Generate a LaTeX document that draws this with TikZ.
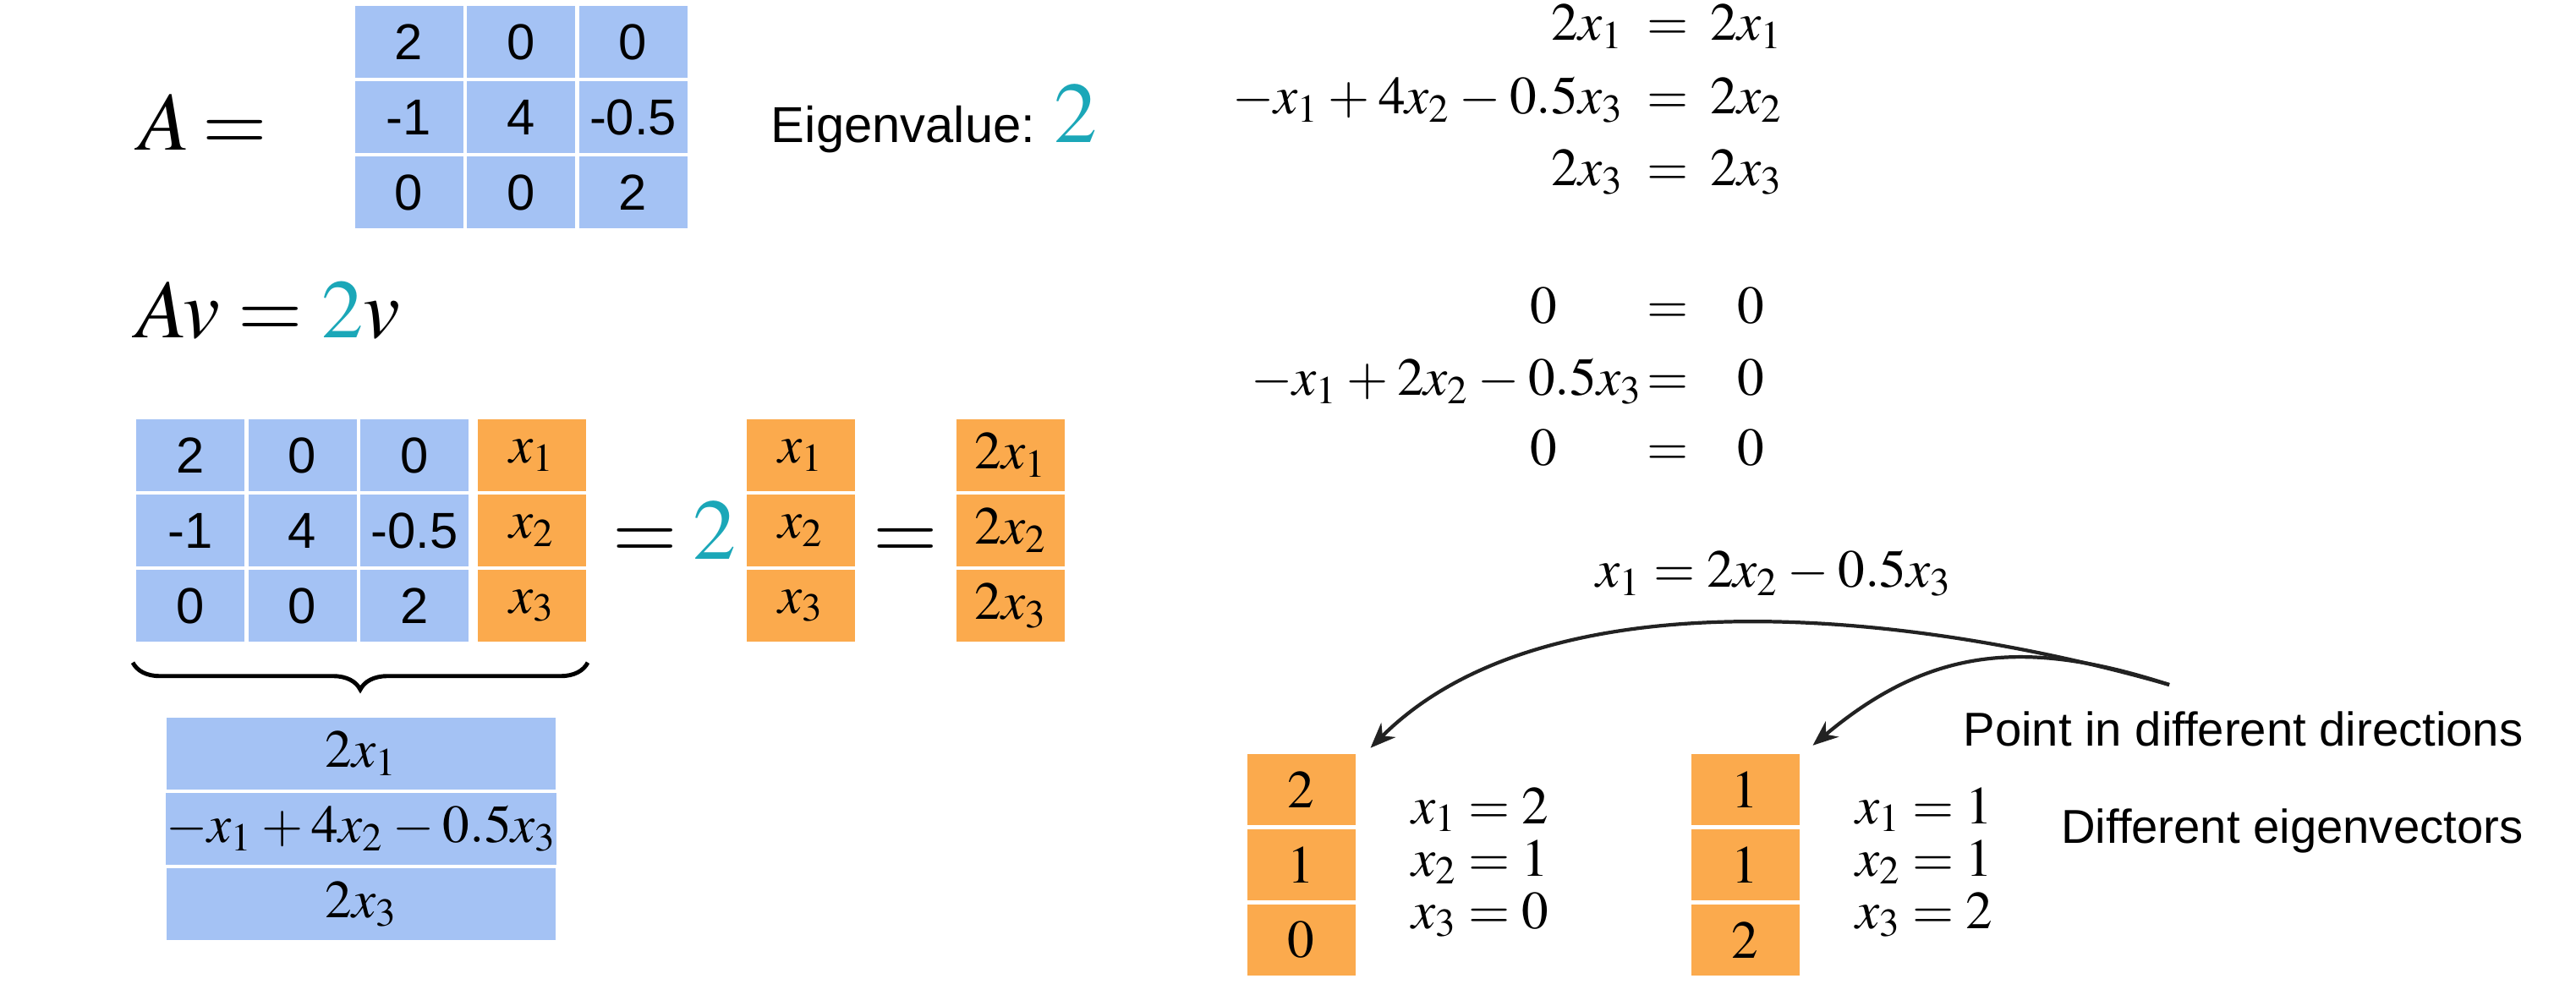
\documentclass[tikz,border=0pt]{standalone}
\usepackage{mathptmx}
\usepackage[no-math]{fontspec}
\newfontfamily\helv{Liberation Sans}
\usetikzlibrary{matrix, calc, arrows.meta, decorations.pathreplacing, positioning}
\definecolor{cellblue}{RGB}{164,194,244}
\definecolor{cellorange}{RGB}{251,170,77}
\definecolor{evteal}{RGB}{27,167,184}
\definecolor{arrowgray}{RGB}{34,34,34}
\newcommand{\mathsz}{\fontsize{18}{22}\selectfont\medmuskip=3mu}
\newcommand{\bigsz}{\fontsize{28}{33}\selectfont}
\newcommand{\sanssz}{\helv\fontsize{17}{20}\selectfont}

\begin{document}
\begin{tikzpicture}[
    cell/.style={fill=cellblue, minimum width=1.28cm, minimum height=0.845cm, inner sep=0pt, outer sep=0pt, anchor=center, font=\sanssz},
    vcell/.style={cell, fill=cellorange, font=\mathsz},
    eqn/.style={inner sep=0pt, font=\mathsz},
    big/.style={inner sep=0pt, font=\bigsz},
    lbl/.style={inner sep=0pt, font=\sanssz},
    note/.style={inner sep=0pt, font=\helv\fontsize{16}{19}\selectfont},
    arr/.style={draw=arrowgray, line width=1.2pt, -{Stealth[length=3mm, width=2.4mm]}},
    brc/.style={decorate, decoration={brace, amplitude=0.32cm}, line width=1.4pt}
]
    \useasboundingbox (0,0) rectangle (30.46,-11.64);

    \matrix (mat) at (6.16,-1.385) [matrix of nodes, nodes={cell}, column sep=0.045cm, row sep=0.045cm, inner sep=0pt] {
        2 & 0 & 0 \\
        -1 & 4 & -0.5 \\
        0 & 0 & 2 \\
    };
    \node[big, anchor=base west] (aname) at (1.64,-1.78) {$A$};
    \node[big, anchor=base east] (aeq) at ($(mat.west)+(-1.02,-0.40)$) {$=$};
    \node[lbl, anchor=base west] (evl) at ($(mat.east)+(0.98,-0.30)$) {Eigenvalue: \textcolor{evteal}{\fontsize{29}{34}\selectfont$2$}};

    \node[big, anchor=base west] (avl) at (1.61,-4.00) {$Av = \textcolor{evteal}{2}v$};

    \matrix (lhs) at (4.27,-6.275) [matrix of nodes, nodes={cell}, column sep=0.045cm, row sep=0.045cm, inner sep=0pt] {
        2 & 0 & 0 &[0.065cm] |[vcell]| $x_1$ \\
        -1 & 4 & -0.5 &[0.065cm] |[vcell]| $x_2$ \\
        0 & 0 & 2 &[0.065cm] |[vcell]| $x_3$ \\
    };
    \matrix (vec) at (9.47,-6.275) [matrix of nodes, nodes={vcell}, row sep=0.045cm, inner sep=0pt] {
        $x_1$ \\
        $x_2$ \\
        $x_3$ \\
    };
    \matrix (res) at (11.95,-6.275) [matrix of nodes, nodes={vcell}, row sep=0.045cm, inner sep=0pt] {
        $2x_1$ \\
        $2x_2$ \\
        $2x_3$ \\
    };
    \node[big, anchor=base] (eqa) at ($(lhs-2-4.east)!0.5!(vec-2-1.west)+(-0.25,-0.34)$) {$=$};
    \node[big, anchor=base, font=\fontsize{29}{34}\selectfont] (lam) at ($(vec-2-1.west)+(-0.38,-0.34)$) {$\textcolor{evteal}{2}$};
    \node[big, anchor=base] (eqb) at ($(vec-2-1.east)!0.5!(res-2-1.west)+(0,-0.34)$) {$=$};

    \draw[brc] ($(lhs-3-4.south east)+(0.02,-0.25)$) -- ($(lhs-3-1.south west)+(-0.04,-0.25)$);

    \matrix (sum) at (4.27,-9.805) [matrix of nodes, nodes={cell, minimum width=4.6cm, font=\mathsz}, row sep=0.045cm, inner sep=0pt] {
        $2x_1$ \\
        $-x_1+4x_2-0.5x_3$ \\
        $2x_3$ \\
    };

    \node[eqn, anchor=base east] (sa1) at (19.20,-0.48) {$2x_1$};
    \node[eqn, anchor=base] (se1) at (19.72,-0.48) {$=$};
    \node[eqn, anchor=base west] (sb1) at (20.22,-0.48) {$2x_1$};
    \node[eqn, anchor=base east] (sa2) at (19.20,-1.35) {$-x_1+4x_2-0.5x_3$};
    \node[eqn, anchor=base] (se2) at (19.72,-1.35) {$=$};
    \node[eqn, anchor=base west] (sb2) at (20.22,-1.35) {$2x_2$};
    \node[eqn, anchor=base east] (sa3) at (19.20,-2.20) {$2x_3$};
    \node[eqn, anchor=base] (se3) at (19.72,-2.20) {$=$};
    \node[eqn, anchor=base west] (sb3) at (20.22,-2.20) {$2x_3$};

    \node[eqn, anchor=base] (ta1) at (18.25,-3.83) {$0$};
    \node[eqn, anchor=base] (te1) at (19.72,-3.83) {$=$};
    \node[eqn, anchor=base] (tb1) at (20.70,-3.83) {$0$};
    \node[eqn, anchor=base east] (ta2) at (19.42,-4.68) {$-x_1+2x_2-0.5x_3$};
    \node[eqn, anchor=base] (te2) at (19.72,-4.68) {$=$};
    \node[eqn, anchor=base] (tb2) at (20.70,-4.68) {$0$};
    \node[eqn, anchor=base] (ta3) at (18.25,-5.51) {$0$};
    \node[eqn, anchor=base] (te3) at (19.72,-5.51) {$=$};
    \node[eqn, anchor=base] (tb3) at (20.70,-5.51) {$0$};

    \node[eqn, anchor=base west] (sol) at (18.87,-6.95) {$x_1 = 2x_2 - 0.5x_3$};

    \matrix (ev1) at (15.385,-10.23) [matrix of nodes, nodes={vcell}, row sep=0.045cm, inner sep=0pt] {
        $2$ \\
        $1$ \\
        $0$ \\
    };
    \matrix (ev2) at (20.635,-10.23) [matrix of nodes, nodes={vcell}, row sep=0.045cm, inner sep=0pt] {
        $1$ \\
        $1$ \\
        $2$ \\
    };
    \node[eqn, anchor=base west] (pa1) at ($(ev1-1-1.east)+(0.66,-0.40)$) {$x_1 = 2$};
    \node[eqn, anchor=base west] (pa2) at ($(pa1.base west)+(0,-0.62)$) {$x_2 = 1$};
    \node[eqn, anchor=base west] (pa3) at ($(pa2.base west)+(0,-0.62)$) {$x_3 = 0$};
    \node[eqn, anchor=base west] (pb1) at ($(ev2-1-1.east)+(0.66,-0.40)$) {$x_1 = 1$};
    \node[eqn, anchor=base west] (pb2) at ($(pb1.base west)+(0,-0.62)$) {$x_2 = 1$};
    \node[eqn, anchor=base west] (pb3) at ($(pb2.base west)+(0,-0.62)$) {$x_3 = 2$};

    \node[note, anchor=base east] (dir) at (29.84,-8.82) {Point in different directions};
    \node[note, anchor=base east] (dif) at (29.84,-9.97) {Different eigenvectors};

    \coordinate (src) at (25.65,-8.10);
    \draw[arr] (src) to[out=164, in=45, distance=3cm] ($(ev1-1-1.north east)+(0.18,0.07)$);
    \draw[arr] (src) to[out=162, in=40, distance=1.8cm] ($(ev2-1-1.north east)+(0.16,0.10)$);
\end{tikzpicture}
\end{document}
